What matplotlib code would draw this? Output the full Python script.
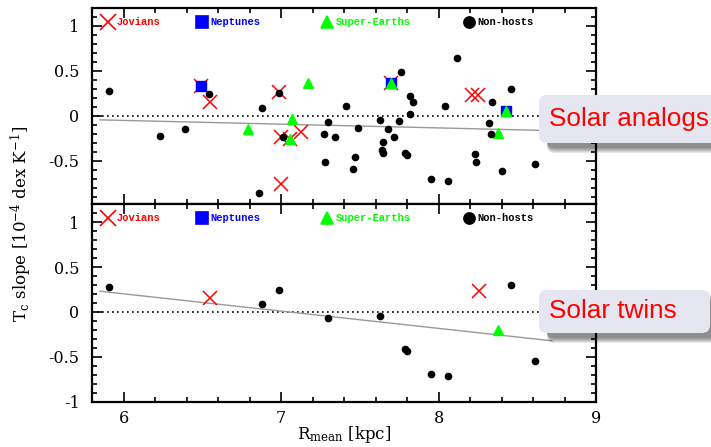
import numpy as np
import matplotlib
matplotlib.use("Agg")
import matplotlib.pyplot as plt
from matplotlib.patches import FancyBboxPatch
from matplotlib.ticker import MultipleLocator, FormatStrFormatter

# Datos (R_mean en kpc, pendiente Tc en 1e-4 dex/K)
# Panel superior: análogos solares
an_nonhost_x = [5.91, 6.23, 6.39, 6.54, 6.86, 6.88, 6.99, 7.01, 7.27, 7.30, 7.28, 7.34,
                7.41, 7.47, 7.46, 7.49, 7.63, 7.65, 7.64, 7.65, 7.68, 7.72, 7.75, 7.76,
                7.79, 7.80, 7.82, 7.84, 7.82, 7.95, 8.04, 8.06, 8.12, 8.23, 8.24, 8.32,
                8.33, 8.34, 8.40, 8.46, 8.61]
an_nonhost_y = [0.28, -0.22, -0.15, 0.24, -0.86, 0.09, 0.26, -0.23, -0.20, -0.07, -0.51, -0.23,
                0.11, -0.46, -0.59, -0.14, -0.05, -0.29, -0.38, -0.41, -0.15, -0.24, -0.06, 0.49,
                -0.41, -0.43, 0.22, 0.15, 0.02, -0.70, 0.11, -0.72, 0.64, -0.42, -0.51, -0.08,
                -0.20, 0.16, -0.61, 0.30, -0.54]
an_jov_x = [6.49, 6.55, 6.99, 7.00, 7.00, 7.06, 7.13, 7.70, 8.21, 8.25]
an_jov_y = [0.33, 0.16, 0.27, -0.23, -0.76, -0.26, -0.18, 0.37, 0.23, 0.23]
an_nep_x = [6.49, 7.70, 8.43]
an_nep_y = [0.33, 0.37, 0.05]
an_se_x = [6.79, 7.07, 7.06, 7.17, 7.70, 8.38, 8.43]
an_se_y = [-0.15, -0.04, -0.26, 0.37, 0.37, -0.19, 0.05]
an_fit = (-0.0417, 0.200)   # pendiente, ordenada

# Panel inferior: gemelos solares
tw_nonhost_x = [5.91, 6.88, 6.99, 7.30, 7.63, 7.79, 7.80, 7.95, 8.06, 8.46, 8.61]
tw_nonhost_y = [0.28, 0.09, 0.25, -0.07, -0.05, -0.41, -0.43, -0.69, -0.71, 0.30, -0.54]
tw_jov_x = [6.55, 8.26]
tw_jov_y = [0.16, 0.23]
tw_nep_x = []
tw_nep_y = []
tw_se_x = [8.38]
tw_se_y = [-0.20]
tw_fit = (-0.192, 1.354)

fit_range = (5.85, 8.72)

leg_labels = ["Jovians", "Neptunes", "Super-Earths", "Non-hosts"]
leg_colors = ["#ff0000", "#0000ff", "#00ff00", "black"]
leg_markers = ["x", "s", "^", "o"]
leg_pos = [0.032, 0.218, 0.467, 0.747]

plt.rcParams['font.family'] = 'DejaVu Serif'
plt.rcParams['mathtext.fontset'] = 'dejavuserif'
plt.rcParams['axes.unicode_minus'] = True

fig = plt.figure(figsize=(7.11, 4.47), dpi=100)
ax1 = fig.add_axes([0.1294, 0.5436, 0.7089, 0.4385])
ax2 = fig.add_axes([0.1294, 0.1007, 0.7089, 0.4429])


def panel(ax, nh_x, nh_y, jx, jy, nx, ny, sx, sy, fit, ylo):
    ax.axhline(0, color='black', ls=(0, (1, 2)), lw=1.2, zorder=1)
    xf = np.array(fit_range)
    ax.plot(xf, fit[0] * xf + fit[1], color='#999999', lw=1, zorder=1)
    ax.plot(jx, jy, 'x', color='#ff0000', ms=10, mew=1.1, zorder=2)
    ax.plot(nx, ny, 's', color='#0000ff', ms=7, zorder=3)
    ax.plot(sx, sy, '^', color='#00ff00', ms=7, zorder=4)
    ax.plot(nh_x, nh_y, 'o', color='black', ms=4.5, zorder=5)
    ax.set_xlim(5.8, 9)
    ax.set_ylim(ylo, 1.2)
    ax.xaxis.set_major_locator(MultipleLocator(1))
    ax.xaxis.set_minor_locator(MultipleLocator(0.2))
    ax.yaxis.set_major_locator(MultipleLocator(0.5))
    ax.yaxis.set_minor_locator(MultipleLocator(0.1))
    ax.yaxis.set_major_formatter(FormatStrFormatter('%g'))
    ax.tick_params(which='both', direction='in', top=True, right=True, width=1.2,
                   labelsize=11.5)
    ax.tick_params(which='major', length=7)
    ax.tick_params(which='minor', length=3.5)
    ax.tick_params(axis='y', pad=9)
    ax.tick_params(axis='x', pad=6)
    for s in ax.spines.values():
        s.set_linewidth(1.6)
    # leyenda propia
    for lab, c, m, xp in zip(leg_labels, leg_colors, leg_markers, leg_pos):
        ms = 11 if m == 'x' else 8
        ax.plot([xp], [0.931], m, color=c, ms=ms, mew=1.2, transform=ax.transAxes,
                clip_on=False)
        ax.text(xp + 0.017, 0.931, lab, color=c, transform=ax.transAxes, va='center',
                ha='left', fontsize=7.5, fontweight='bold', family='Liberation Mono')


panel(ax1, an_nonhost_x, an_nonhost_y, an_jov_x, an_jov_y, an_nep_x, an_nep_y,
      an_se_x, an_se_y, an_fit, -0.98)
panel(ax2, tw_nonhost_x, tw_nonhost_y, tw_jov_x, tw_jov_y, tw_nep_x, tw_nep_y,
      tw_se_x, tw_se_y, tw_fit, -1.0)
ax1.tick_params(labelbottom=False)

fig.text(0.4838, 0.027, r'R$_{\rm mean}$ [kpc]', va='center', ha='center', fontsize=12)
fig.text(0.03, 0.5, r'T$_{\rm c}$ slope [10$^{-4}$ dex K$^{-1}$]', rotation=90,
         va='center', ha='center', fontsize=12)


def etiqueta(texto, x0, y0, w, h):
    tr = fig.dpi_scale_trans
    for i in range(6):
        sh = FancyBboxPatch((x0 + 0.08, y0 - 0.05 - i * 0.01), w, h,
                            boxstyle='round,pad=0,rounding_size=0.08',
                            fc='black', ec='none', alpha=0.09, transform=tr)
        fig.patches.append(sh)
    box = FancyBboxPatch((x0, y0), w, h, boxstyle='round,pad=0,rounding_size=0.08',
                         fc='#e6e6f0', ec='none', transform=tr)
    fig.patches.append(box)
    fig.text(x0 + 0.10, y0 + h / 2, texto, color='#ff0000', transform=tr,
             va='center', ha='left', fontsize=18.8, family='Liberation Sans')


etiqueta('Solar analogs', 5.39, 3.04, 2.2, 0.48)
etiqueta('Solar twins', 5.39, 1.14, 1.71, 0.43)

fig.savefig('out.png', dpi=100)
